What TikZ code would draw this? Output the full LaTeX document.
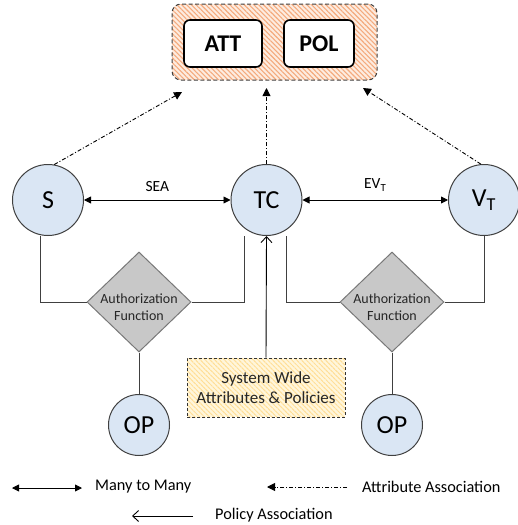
\documentclass[tikz,border=0pt]{standalone}
\usepackage{fontspec}
\setmainfont{Carlito}
\usetikzlibrary{arrows.meta,shapes.geometric,patterns.meta}
\definecolor{circfill}{RGB}{218,230,244}
\definecolor{circdraw}{RGB}{64,64,64}
\definecolor{diafill}{RGB}{200,200,200}
\definecolor{diadraw}{RGB}{120,120,120}
\definecolor{orfill}{RGB}{253,236,224}
\definecolor{orline}{RGB}{244,170,125}
\definecolor{yefill}{RGB}{255,246,220}
\definecolor{yeline}{RGB}{255,222,150}
\begin{document}
\begin{tikzpicture}[x=1pt,y=-1pt,
  circ/.style={circle, draw=circdraw, fill=circfill, line width=1pt, minimum size=71pt, inner sep=0pt, font=\fontsize{26}{30}\selectfont},
  opcirc/.style={circ, minimum size=61pt},
  inbox/.style={draw=black, fill=white, line width=1.6pt, rounded corners=6pt, minimum height=47pt, inner sep=0pt, font=\bfseries\fontsize{24}{28}\selectfont},
  diabox/.style={diamond, draw=diadraw, fill=diafill, line width=1pt, minimum width=104pt, minimum height=100pt, inner sep=0pt},
  diatext/.style={align=center, font=\fontsize{14}{17}\selectfont, inner sep=0pt, text=black!85},
  conn/.style={draw=circdraw, line width=1pt},
  mm/.style={{Triangle[length=7pt,width=7pt]}-{Triangle[length=7pt,width=7pt]}, line width=0.9pt},
  attr/.style={-{Triangle[length=8pt,width=8pt]}, line width=0.9pt, dash pattern=on 4pt off 2pt on 1pt off 2pt},
  pol/.style={-{Straight Barb[length=6pt,width=11pt]}, line width=0.9pt},
  lbl/.style={font=\fontsize{15.5}{18}\selectfont, inner sep=0pt},
  leg/.style={font=\fontsize{16.3}{19}\selectfont, inner sep=0pt, anchor=west}
]
\useasboundingbox (0,0) rectangle (517,525);

% top container
\node[draw=circdraw, line width=1pt, dash pattern=on 4pt off 2.5pt, rounded corners=9pt,
      preaction={fill=orfill},
      pattern={Lines[angle=-45,distance=3.4pt,line width=1.1pt]}, pattern color=orline,
      minimum width=205pt, minimum height=76pt] (top) at (274.5,42) {};
\node[inbox, minimum width=78pt] (att) at (223,43.5) {ATT};
\node[inbox, minimum width=70pt] (pol) at (319,43.5) {POL};

% circles
\node[circ] (S) at (48,200) {S};
\node[circ] (TC) at (266.5,200) {TC};
\node[circ] (V) at (484,200) {V\textsubscript{T}};

% attribute associations
\coordinate (aS) at (182,92);
\coordinate (aT) at (266.5,88);
\coordinate (aV) at (363,88);
\draw[attr] (S.80) -- (aS);
\draw[attr] (TC.north) -- (aT);
\draw[attr] (V.95) -- (aV);

% many-to-many
\draw[mm] (S) -- (TC) node[lbl, midway, yshift=13pt] (sea) {SEA};
\draw[mm] (TC) -- (V) node[lbl, midway, yshift=15pt] (evt) {EV\textsubscript{T}};

% diamonds
\node[diabox] (D1) at (139,302) {};
\node[diatext] (D1t) at (139,307.5) {Authorization\\Function};
\node[diabox] (D2) at (392,302) {};
\node[diatext] (D2t) at (392,307.5) {Authorization\\Function};

\draw[conn] ([xshift=-8pt]S.south) |- (D1.west);
\draw[conn] (D1.east) -| ([xshift=-22pt]TC.south);
\draw[conn] ([xshift=20pt]TC.south) |- (D2.west);
\draw[conn] (D2.east) -| (V.south);

% OP circles
\node[opcirc] (OP1) at (139,425) {OP};
\node[opcirc] (OP2) at (392,425) {OP};
\draw[conn] (D1.south) -- (OP1.north);
\draw[conn] (D2.south) -- (OP2.north);

% system wide box
\node[draw=black!80, line width=0.9pt, dash pattern=on 3pt off 2pt,
      preaction={fill=yefill},
      pattern={Lines[angle=-45,distance=3.4pt,line width=1pt]}, pattern color=yeline,
      minimum width=158pt, minimum height=59pt, align=center,
      font=\fontsize{17}{20}\selectfont, text=black!85] (sys) at (266,387.5) {System Wide\\Attributes \& Policies};
\draw[pol] (sys.north) -- (TC.south);

% legend
\coordinate (m1) at (12,488);
\coordinate (m2) at (82,488);
\draw[mm] (m1) -- (m2);
\node[leg] (mt) at (95,487) {Many to Many};
\coordinate (a1) at (347,487);
\coordinate (a2) at (267,487);
\draw[attr] (a1) -- (a2);
\node[leg] (at) at (362,487) {Attribute Association};
\coordinate (p1) at (193,516);
\coordinate (p2) at (132,516);
\draw[pol] (p1) -- (p2);
\node[leg] (pt) at (215,515) {Policy Association};
\end{tikzpicture}
\end{document}
